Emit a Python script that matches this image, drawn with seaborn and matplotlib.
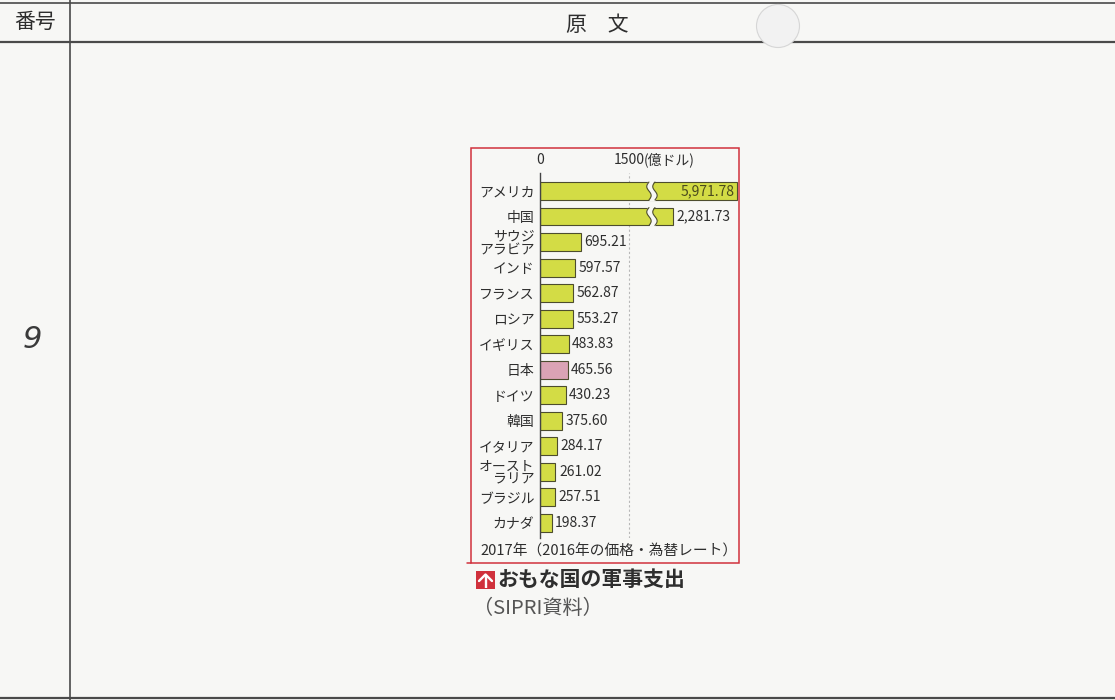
import numpy as np
import pandas as pd
import matplotlib
matplotlib.use("Agg")
import matplotlib.pyplot as plt
import seaborn as sns
from matplotlib.patches import Rectangle, Circle, Polygon
from matplotlib.transforms import blended_transform_factory, IdentityTransform

# ---- data: military spending 2017 (100 million USD, 2016 prices) ----
countries = ["アメリカ", "中国", "サウジ\nアラビア", "インド", "フランス", "ロシア",
             "イギリス", "日本", "ドイツ", "韓国", "イタリア", "オースト\nラリア",
             "ブラジル", "カナダ"]
spending = [5971.78, 2281.73, 695.21, 597.57, 562.87, 553.27, 483.83,
            465.56, 430.23, 375.60, 284.17, 261.02, 257.51, 198.37]
highlight = "日本"
tick_values = [0, 1500]
tick_labels = ["0", "1500"]
unit_label = "(億ドル)"
note = "2017年（2016年の価格・為替レート）"
title = "おもな国の軍事支出"
source = "（SIPRI資料）"

PAPER = "#f7f7f5"
GREEN = "#d3dc45"
PINK = "#dba3b5"
EDGE = "#4d4d2e"
RED = "#d0313c"
INK = "#2e2e2e"
LINE = "#4a4a4a"

sns.set_style("white")
plt.rcParams["font.family"] = ["Noto Sans CJK JP", "DejaVu Sans"]

W, H = 1115, 700
fig = plt.figure(figsize=(W / 100, H / 100), dpi=100, facecolor=PAPER)

# ---- page layer (pixel coordinates) ----
bg = fig.add_axes([0, 0, 1, 1])
bg.set_xlim(0, W)
bg.set_ylim(H, 0)
bg.axis("off")
bg.set_facecolor(PAPER)

for y, lw in [(3, 1.2), (42, 1.6), (697.5, 1.6)]:
    bg.plot([0, W], [y, y], color=LINE, lw=lw, solid_capstyle="butt")
bg.plot([70, 70], [0, H], color=LINE, lw=1.2)
bg.add_patch(Circle((778, 26), 21.5, fc="#f2f2f2", ec="#d6d6d6", lw=0.8, zorder=5))
bg.text(35, 22, "番号", ha="center", va="center", fontsize=15, color=INK)
bg.text(597, 25, "原　文", ha="center", va="center", fontsize=15, color=INK)
bg.text(32, 340, "9", ha="center", va="center", fontsize=22, style="italic",
        color="#3a3a3a", family=["DejaVu Sans"], weight="light")

# chart frame
bg.add_patch(Rectangle((471, 148), 268, 415, fill=False, ec=RED, lw=1.1))
bg.plot([467, 471], [563, 563], color=RED, lw=1.1)
bg.text(609, 551, note, ha="center", va="center", fontsize=10.6, color=INK)

# caption with red arrow badge
bg.add_patch(Rectangle((476, 571), 19, 18, color=RED, lw=0))
bg.plot([485.5, 485.5], [574.5, 588], color="white", lw=1.7, solid_capstyle="butt")
bg.plot([479, 485.5, 492], [581, 574.5, 581], color="white", lw=1.7)
bg.text(497, 580, title, ha="left", va="center", fontsize=15, weight="bold", color=INK)
bg.text(473, 608, source, ha="left", va="center", fontsize=14.5, color="#555555")

# ---- bar chart ----
ax = fig.add_axes([540 / W, 1 - 538 / H, 198 / W, (538 - 173) / H])
ax.set_facecolor("none")

df = pd.DataFrame({"country": countries, "spending": spending})
palette = {c: (PINK if c == highlight else GREEN) for c in countries}
BAR_W = 0.7
sns.barplot(data=df, x="spending", y="country", hue="country", palette=palette,
            legend=False, orient="h", width=BAR_W, saturation=1,
            edgecolor=EDGE, linewidth=0.8, ax=ax)

# broken axis: linear up to BREAK, compressed beyond it
BREAK, K, P = 1870.0, 10.51, 0.5923


def fwd(v):
    v = np.asarray(v, dtype=float)
    over = np.maximum(v - BREAK, 0.0)
    return np.where(v <= BREAK, v, BREAK + K * over ** P)


def inv(u):
    u = np.asarray(u, dtype=float)
    over = np.maximum(u - BREAK, 0.0)
    return np.where(u <= BREAK, u, BREAK + (over / K) ** (1.0 / P))


ax.set_xscale("function", functions=(fwd, inv))
px_per_unit = 89 / 1500
ax.set_xlim(0, float(inv(198 / px_per_unit)))
ax.set_ylim(13.59, -0.705)

for side in ["top", "right", "bottom"]:
    ax.spines[side].set_visible(False)
ax.spines["left"].set_color("#444444")
ax.spines["left"].set_linewidth(1.0)
ax.axvline(1500, color="#b8b8b8", ls=(0, (2, 2)), lw=0.8, zorder=0)

ax.xaxis.tick_top()
ax.set_xticks(tick_values)
ax.set_xticklabels(tick_labels, fontsize=10, color=INK)
ax.tick_params(axis="x", length=0, pad=4.5)
ax.tick_params(axis="y", length=0, pad=4)
ax.set_xlabel("")
ax.set_ylabel("")
for lab in ax.get_yticklabels():
    lab.set_fontsize(10)
    lab.set_color(INK)
    lab.set_linespacing(0.95)
ax.annotate(unit_label, xy=(1500, 1), xycoords=ax.get_xaxis_transform(),
            xytext=(10.5, 4.5), textcoords="offset points",
            ha="left", va="bottom", fontsize=10, color=INK)

# value labels
top = max(spending)
for i, v in enumerate(spending):
    text = f"{v:,.2f}"
    if v == top:
        ax.annotate(text, xy=(v, i), xytext=(-2, 0), textcoords="offset points",
                    ha="right", va="center", fontsize=10, color="#4a4a1e")
    else:
        ax.annotate(text, xy=(v, i), xytext=(2.5, 0), textcoords="offset points",
                    ha="left", va="center", fontsize=10, color=INK)

# wavy break marks on bars that pass the break
trans = blended_transform_factory(IdentityTransform(), ax.transData)
for i, v in enumerate(spending):
    if v <= BREAK:
        continue
    xb = ax.transData.transform((BREAK, i))[0] + 1
    t = np.linspace(0, 1, 40)
    wave = 2.2 * np.sin(2 * np.pi * t)
    ys = i + BAR_W / 2 + 0.05 - t * (BAR_W + 0.1)
    ys_line = i + BAR_W / 2 - t * BAR_W
    left = xb - 3 + wave
    right = xb + 3 + wave
    poly = np.column_stack([np.r_[left, right[::-1]], np.r_[ys, ys[::-1]]])
    ax.add_patch(Polygon(poly, closed=True, fc=PAPER, ec="none", transform=trans,
                         zorder=5, clip_on=False))
    ax.plot(xb - 3 + 2.2 * np.sin(2 * np.pi * t), ys_line, color=EDGE, lw=0.8,
            transform=trans, zorder=6, clip_on=False)
    ax.plot(xb + 3 + 2.2 * np.sin(2 * np.pi * t), ys_line, color=EDGE, lw=0.8,
            transform=trans, zorder=6, clip_on=False)

fig.savefig("out.png", dpi=100, facecolor=PAPER)
